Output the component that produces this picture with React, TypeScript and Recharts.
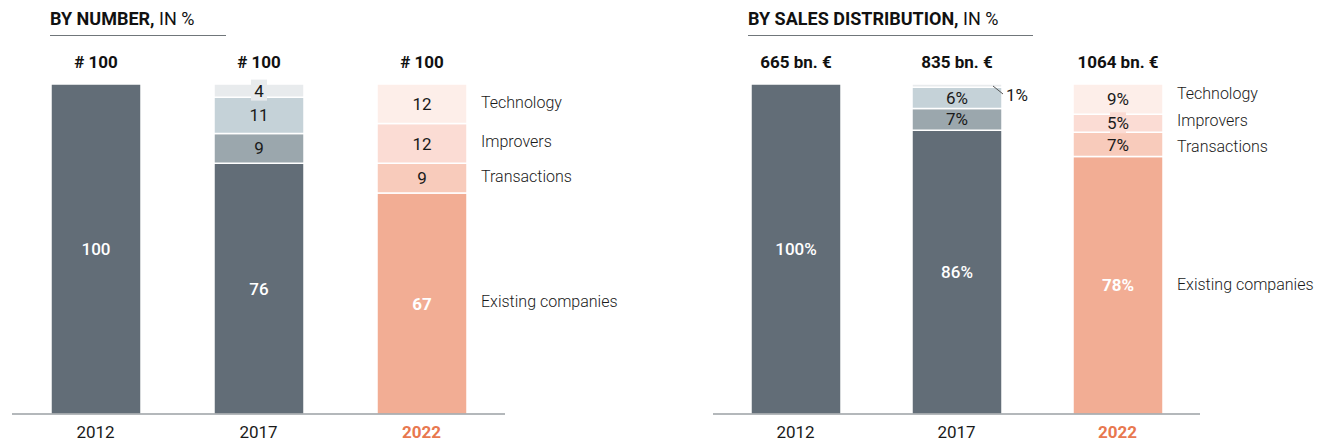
import { Bar, BarChart, Cell, LabelList, XAxis, YAxis } from "recharts";

const years = ["2012", "2017", "2022"];
const segmentNames = ["Existing companies", "Transactions", "Improvers", "Technology"];

const numExisting = [100, 76, 67];
const numTransactions = [0, 9, 9];
const numImprovers = [0, 11, 12];
const numTechnology = [0, 4, 12];
const numTotals = ["# 100", "# 100", "# 100"];

const salesExisting = [100, 86, 78];
const salesTransactions = [0, 6.6, 7.4];
const salesImprovers = [0, 6.4, 5.4];
const salesTechnology = [0, 1, 9.2];
const salesTotals = ["665 bn. €", "835 bn. €", "1064 bn. €"];

const FONT = "Roboto, 'Noto Sans', sans-serif";
const KEYS = ["existing", "transactions", "improvers", "technology"];
const GREY = ["#626d77", "#9ba7ad", "#c5d2d8", "#e8ebed"];
const PEACH = ["#f2ad94", "#f8cbbb", "#fbdcd4", "#fdeee9"];
const ACCENT = "#e8784f";

const buildRows = (series: number[][], totals: string[]) =>
  years.map((year, i) => ({
    year,
    existing: series[0][i],
    transactions: series[1][i],
    improvers: series[2][i],
    technology: series[3][i],
    total: series[0][i] + series[1][i] + series[2][i] + series[3][i],
    header: totals[i],
  }));

const numberRows = buildRows([numExisting, numTransactions, numImprovers, numTechnology], numTotals);
const salesRows = buildRows([salesExisting, salesTransactions, salesImprovers, salesTechnology], salesTotals);

const lastIdx = years.length - 1;
const colorFor = (seg: number, idx: number) => (idx === lastIdx ? PEACH[seg] : GREY[seg]);

const YearTick = (props: any) => {
  const { x, y, payload } = props;
  const last = payload.value === years[lastIdx];
  return (
    <text
      x={x}
      y={y + 16}
      textAnchor="middle"
      fontFamily={FONT}
      fontSize={17}
      fontWeight={last ? 700 : 400}
      fill={last ? ACCENT : "#1a1a1a"}
    >
      {payload.value}
    </text>
  );
};

// LabelList gets the year as value, so the row is found even when zero bars are skipped
const segmentLabel = (rows: any[], seg: number, suffix: string, legendDy: number[]) => (props: any) => {
  const { x, y, width, height, value } = props;
  const idx = years.indexOf(String(value));
  if (idx < 0) return null;
  const v = Number(rows[idx][KEYS[seg]]);
  const cx = x + width / 2;
  const cy = y + height / 2;
  const nodes: any[] = [];
  if (v > 0) {
    const text = `${Math.round(v)}${suffix}`;
    if (height < 8) {
      nodes.push(
        <line key="l" x1={x + width - 9} y1={y + 2} x2={x + width + 1} y2={y + 10} stroke="#555" strokeWidth={1} />,
        <text key="t" x={x + width + 4} y={y + 17} fontFamily={FONT} fontSize={17} fill="#1a1a1a">
          {text}
        </text>
      );
    } else {
      if (height < 18) {
        nodes.push(<rect key="b" x={cx - 8} y={cy - 11} width={16} height={21} fill={colorFor(seg, idx)} />);
      }
      const white = seg === 0;
      nodes.push(
        <text
          key="v"
          x={cx}
          y={cy}
          dy="0.36em"
          textAnchor="middle"
          fontFamily={FONT}
          fontSize={17}
          fontWeight={white ? (idx === lastIdx ? 700 : 500) : 400}
          fill={white ? "#ffffff" : "#1a1a1a"}
        >
          {text}
        </text>
      );
    }
  }
  if (idx === lastIdx && v > 0) {
    nodes.push(
      <text
        key="n"
        x={x + width + 14}
        y={cy + legendDy[seg]}
        dy="0.36em"
        fontFamily={FONT}
        fontSize={16}
        fontWeight={300}
        fill="#1a1a1a"
      >
        {segmentNames[seg]}
      </text>
    );
  }
  return <g>{nodes}</g>;
};

const headerLabel = (rows: any[]) => (props: any) => {
  const { x, y, width, height, value } = props;
  const row = rows.find((r) => r.year === String(value));
  if (!row) return null;
  const top = y + height - (row.total * height) / row.existing;
  return (
    <text
      x={x + width / 2}
      y={top - 16}
      textAnchor="middle"
      fontFamily={FONT}
      fontSize={17}
      fontWeight={700}
      fill="#111"
    >
      {row.header}
    </text>
  );
};

interface StackChartProps {
  rows: any[];
  width: number;
  marginLeft: number;
  marginRight: number;
  suffix: string;
  legendDy: number[];
}

const StackChart = ({ rows, width, marginLeft, marginRight, suffix, legendDy }: StackChartProps) => (
  <BarChart
    width={width}
    height={446}
    data={rows}
    barSize={90}
    margin={{ top: 84, right: marginRight, left: marginLeft, bottom: 0 }}
  >
    <XAxis
      dataKey="year"
      height={32}
      padding={{ left: 2, right: 2 }}
      axisLine={{ stroke: "#6b7378", strokeWidth: 1.2 }}
      tickLine={false}
      tick={<YearTick />}
      interval={0}
    />
    <YAxis hide domain={[0, 100]} />
    {KEYS.map((key, seg) => (
      <Bar
        key={key}
        dataKey={key}
        stackId="a"
        stroke="#ffffff"
        strokeWidth={1.5}
        isAnimationActive={false}
      >
        {rows.map((_, idx) => (
          <Cell key={idx} fill={colorFor(seg, idx)} />
        ))}
        <LabelList dataKey="year" content={segmentLabel(rows, seg, suffix, legendDy)} />
        {seg === 0 && <LabelList dataKey="year" content={headerLabel(rows)} />}
      </Bar>
    ))}
  </BarChart>
);

const Title = ({ left, width, bold, rest }: { left: number; width: number; bold: string; rest: string }) => (
  <div
    style={{
      position: "absolute",
      left,
      top: 8,
      width,
      fontFamily: FONT,
      fontSize: 18,
      lineHeight: "22px",
      paddingBottom: 5,
      borderBottom: "1.5px solid #70767a",
      color: "#111",
      whiteSpace: "nowrap",
    }}
  >
    <b>{bold}</b>
    {rest}
  </div>
);

export default function App() {
  return (
    <div
      style={{
        position: "absolute",
        left: 0,
        top: 0,
        width: 1330,
        height: 446,
        background: "#ffffff",
        overflow: "hidden",
      }}
    >
      <Title left={50} width={176} bold="BY NUMBER," rest=" IN %" />
      <Title left={748} width={285} bold="BY SALES DISTRIBUTION," rest=" IN %" />
      <div style={{ position: "absolute", left: 0, top: 0 }}>
        <StackChart rows={numberRows} width={620} marginLeft={12} marginRight={115} suffix="" legendDy={[-2, -2, -2, -2]} />
      </div>
      <div style={{ position: "absolute", left: 700, top: 0 }}>
        <StackChart rows={salesRows} width={630} marginLeft={13} marginRight={130} suffix="%" legendDy={[-1, 2, -3, -6]} />
      </div>
    </div>
  );
}
